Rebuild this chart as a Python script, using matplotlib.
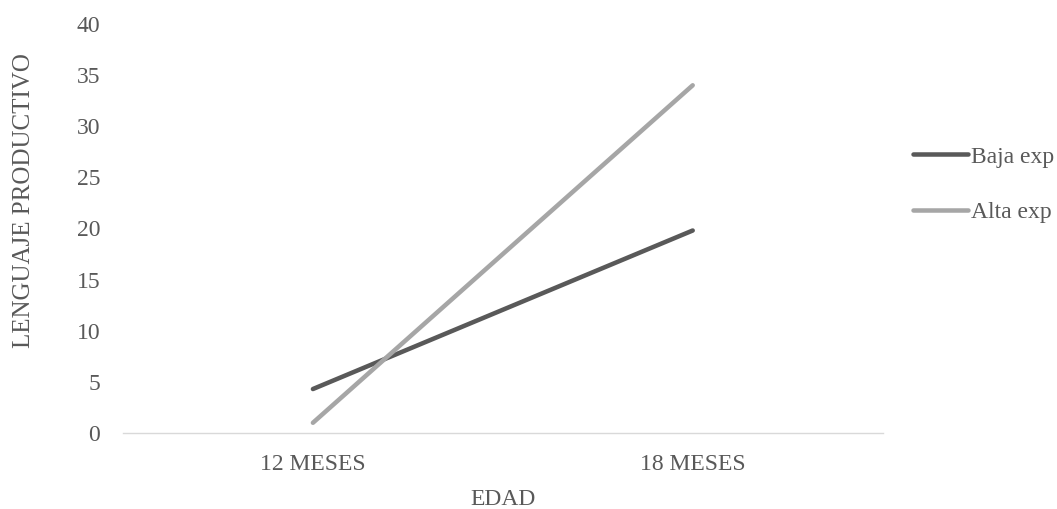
import matplotlib
matplotlib.use("Agg")
import matplotlib.pyplot as plt

# data
edades = ["12 MESES", "18 MESES"]
baja_exp = [4.3, 19.8]
alta_exp = [1.0, 34.0]
y_ticks = [0, 5, 10, 15, 20, 25, 30, 35, 40]

txt = "#595959"
fs = 17
plt.rcParams["font.family"] = ["Liberation Serif", "DejaVu Serif"]
plt.rcParams["font.size"] = fs

fig = plt.figure(figsize=(10.57, 5.09), dpi=100)
ax = fig.add_axes([0.1164, 0.1493, 0.7186, 0.8037])

x = list(range(len(edades)))
ax.plot(x, baja_exp, color="#595959", lw=3.25, solid_capstyle="round", label="Baja exp")
ax.plot(x, alta_exp, color="#A6A6A6", lw=3.25, solid_capstyle="round", label="Alta exp")

ax.set_xlim(-0.5, 1.5)
ax.set_ylim(0, 40)
ax.set_xticks(x)
ax.set_xticklabels(edades)
ax.set_yticks(y_ticks)

for s in ["top", "right", "left"]:
    ax.spines[s].set_visible(False)
ax.spines["bottom"].set_color("#D9D9D9")
ax.spines["bottom"].set_linewidth(1.0)
ax.tick_params(axis="both", length=0, colors=txt, labelsize=fs)
ax.tick_params(axis="y", pad=16.5)
ax.tick_params(axis="x", pad=15)

ax.set_xlabel("EDAD", color=txt, fontsize=fs, labelpad=10)
ax.set_ylabel("LENGUAJE PRODUCTIVO", color=txt, fontsize=18, labelpad=30)
ax.yaxis.label.set_y(0.568)  # sits a bit above the axis centre in the original

leg = fig.legend(loc="center left", bbox_to_anchor=(0.844, 0.637), frameon=False,
                 handlelength=2.33, handletextpad=0.13, labelspacing=1.45, fontsize=fs)
for t in leg.get_texts():
    t.set_color(txt)

fig.savefig("out.png", dpi=100)
